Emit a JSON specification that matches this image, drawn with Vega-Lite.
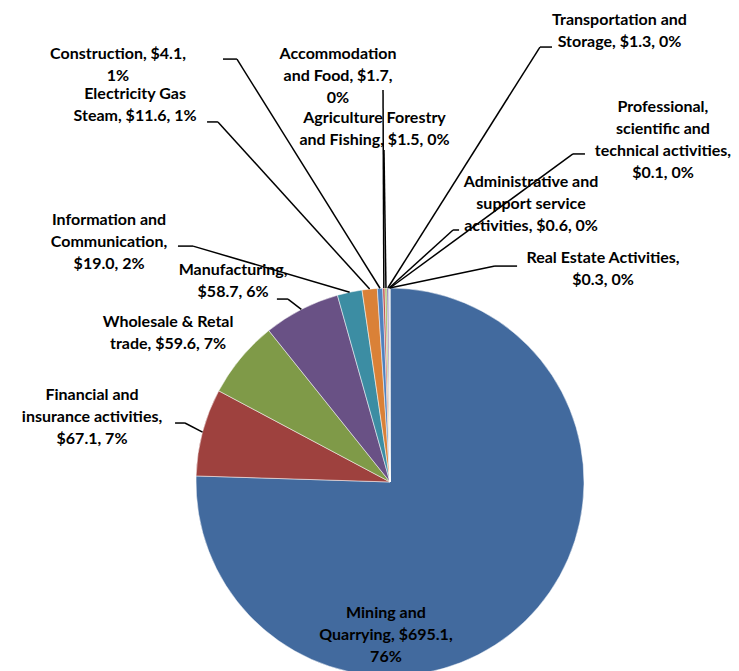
{
  "$schema": "https://vega.github.io/schema/vega-lite/v6.json",
  "width": 739,
  "height": 671,
  "padding": 0,
  "autosize": {"type": "none"},
  "background": "white",
  "view": {"stroke": null},
  "data": {
    "values": [
      {"category": "Mining and Quarrying", "value": 695.1, "label": ["Mining and", "Quarrying, $695.1,", "76%"]},
      {"category": "Financial and insurance activities", "value": 67.1, "label": ["Financial and", "insurance activities,", "$67.1, 7%"]},
      {"category": "Wholesale & Retal trade", "value": 59.6, "label": ["Wholesale & Retal", "trade, $59.6, 7%"]},
      {"category": "Manufacturing", "value": 58.7, "label": ["Manufacturing,", "$58.7, 6%"]},
      {"category": "Information and Communication", "value": 19.0, "label": ["Information and", "Communication,", "$19.0, 2%"]},
      {"category": "Electricity Gas Steam", "value": 11.6, "label": ["Electricity Gas", "Steam, $11.6, 1%"]},
      {"category": "Construction", "value": 4.1, "label": ["Construction, $4.1,", "1%"]},
      {"category": "Accommodation and Food", "value": 1.7, "label": ["Accommodation", "and Food, $1.7,", "0%"]},
      {"category": "Agriculture Forestry and Fishing", "value": 1.5, "label": ["Agriculture Forestry", "and Fishing, $1.5, 0%"]},
      {"category": "Transportation and Storage", "value": 1.3, "label": ["Transportation and", "Storage, $1.3, 0%"]},
      {"category": "Administrative and support service activities", "value": 0.6, "label": ["Administrative and", "support service", "activities, $0.6, 0%"]},
      {"category": "Real Estate Activities", "value": 0.3, "label": ["Real Estate Activities,", "$0.3, 0%"]},
      {"category": "Professional, scientific and technical activities", "value": 0.1, "label": ["Professional,", "scientific and", "technical activities,", "$0.1, 0%"]}
    ]
  },
  "transform": [
    {"joinaggregate": [{"op": "sum", "field": "value", "as": "total"}]},
    {"window": [{"op": "sum", "field": "value", "as": "cum"}], "sort": [{"field": "value", "order": "descending"}], "frame": [null, 0]},
    {"calculate": "(datum.cum - datum.value) / datum.total", "as": "start"},
    {"calculate": "datum.cum / datum.total", "as": "end"},
    {"calculate": "2 * PI * (datum.cum - datum.value / 2) / datum.total", "as": "mid"},
    {"calculate": "sin(datum.mid)", "as": "sx"},
    {"calculate": "cos(datum.mid)", "as": "sy"},
    {"calculate": "({'Mining and Quarrying': [-0.021, -0.701, null, null, null, null], 'Financial and insurance activities': [-1.536, 0.423, -1.108, 0.304, -1.057, 0.304], 'Wholesale & Retal trade': [-1.144, 0.799, null, null, null, null], 'Manufacturing': [-0.809, 1.067, -0.583, 0.943, -0.526, 0.943], 'Information and Communication': [-1.448, 1.325, -1.093, 1.216, -1.015, 1.216], 'Electricity Gas Steam': [-1.314, 1.974, -0.943, 1.856, -0.887, 1.856], 'Construction': [-1.402, 2.18, -0.861, 2.18, -0.789, 2.18], 'Accommodation and Food': [-0.268, 2.18, -0.036, 2.021, -0.036, 2.021], 'Agriculture Forestry and Fishing': [-0.08, 1.85, -0.031, 1.711, -0.031, 1.711], 'Transportation and Storage': [1.183, 2.356, 0.835, 2.242, 0.773, 2.242], 'Administrative and support service activities': [0.727, 1.521, 0.356, 1.299, 0.325, 1.299], 'Real Estate Activities': [1.098, 1.129, 0.655, 1.113, 0.541, 1.113], 'Professional, scientific and technical activities': [1.407, 1.907, 1.005, 1.691, 0.943, 1.691]})[datum.category]", "as": "lay"},
    {"calculate": "datum.lay[0]", "as": "lx"},
    {"calculate": "datum.lay[1]", "as": "ly"},
    {"calculate": "datum.lay[2]", "as": "ax"},
    {"calculate": "datum.lay[3]", "as": "ay"},
    {"calculate": "datum.lay[4]", "as": "bx"},
    {"calculate": "datum.lay[5]", "as": "by"}
  ],
  "layer": [
    {
      "mark": {"type": "arc", "outerRadius": 194, "stroke": "#ffffff", "strokeWidth": 0.5},
      "encoding": {
        "x": {"datum": 0, "type": "quantitative", "stack": null, "scale": {"domain": [-2.01031, 1.79897], "nice": false, "zero": false}, "axis": null},
        "y": {"datum": 0, "type": "quantitative", "stack": null, "scale": {"domain": [-0.97423, 2.48454], "nice": false, "zero": false}, "axis": null},
        "theta": {"field": "start", "type": "quantitative", "scale": {"domain": [0, 1]}},
        "theta2": {"field": "end"},
        "color": {
          "field": "category",
          "type": "nominal",
          "legend": null,
          "scale": {
            "domain": ["Mining and Quarrying", "Financial and insurance activities", "Wholesale & Retal trade", "Manufacturing", "Information and Communication", "Electricity Gas Steam", "Construction", "Accommodation and Food", "Agriculture Forestry and Fishing", "Transportation and Storage", "Administrative and support service activities", "Real Estate Activities", "Professional, scientific and technical activities"],
            "range": ["#426A9E", "#9E413E", "#7F9A48", "#695185", "#3C8DA3", "#DA8137", "#4F81BD", "#C0504D", "#9BBB59", "#8064A2", "#4BACC6", "#F79646", "#2C4D75"]
          }
        }
      }
    },
    {
      "mark": {"type": "text", "font": "Lato", "fontSize": 16, "fontWeight": "bold", "lineHeight": 22, "align": "center", "baseline": "alphabetic", "color": "#000000"},
      "encoding": {
        "x": {"field": "lx", "type": "quantitative", "scale": {"domain": [-2.01031, 1.79897], "nice": false, "zero": false}, "axis": null},
        "y": {"field": "ly", "type": "quantitative", "scale": {"domain": [-0.97423, 2.48454], "nice": false, "zero": false}, "axis": null},
        "text": {"field": "label", "type": "nominal"}
      }
    },
    {
      "transform": [{"filter": "isValid(datum.ax)"}],
      "mark": {"type": "rule", "color": "#000000", "strokeWidth": 1.5},
      "encoding": {
        "x": {"field": "ax", "type": "quantitative", "scale": {"domain": [-2.01031, 1.79897], "nice": false, "zero": false}, "axis": null},
        "y": {"field": "ay", "type": "quantitative", "scale": {"domain": [-0.97423, 2.48454], "nice": false, "zero": false}, "axis": null},
        "x2": {"field": "bx"},
        "y2": {"field": "by"}
      }
    },
    {
      "transform": [{"filter": "isValid(datum.bx)"}],
      "mark": {"type": "rule", "color": "#000000", "strokeWidth": 1.5},
      "encoding": {
        "x": {"field": "bx", "type": "quantitative", "scale": {"domain": [-2.01031, 1.79897], "nice": false, "zero": false}, "axis": null},
        "y": {"field": "by", "type": "quantitative", "scale": {"domain": [-0.97423, 2.48454], "nice": false, "zero": false}, "axis": null},
        "x2": {"field": "sx"},
        "y2": {"field": "sy"}
      }
    }
  ]
}
